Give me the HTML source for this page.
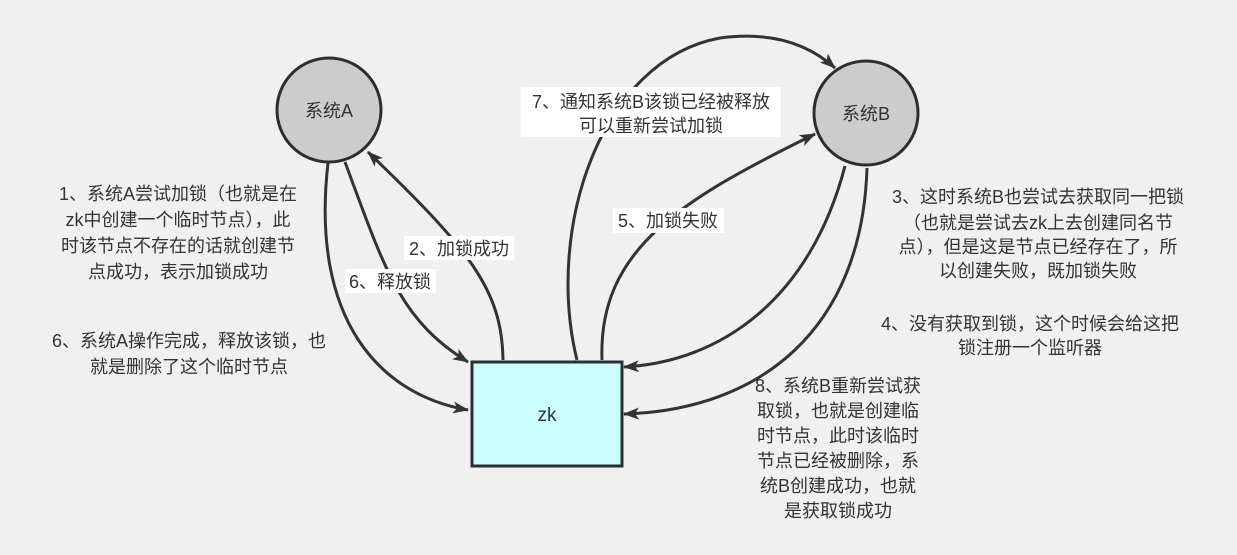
<!DOCTYPE html>
<html><head><meta charset="utf-8"><style>
html,body{margin:0;padding:0;background:#f0f0f0;}
svg{display:block;}
text{font-family:"Liberation Sans","Noto Sans CJK SC",sans-serif;font-size:18px;fill:#333;text-anchor:middle;}
</style></head><body>
<svg width="1237" height="555" viewBox="0 0 1237 555" xmlns="http://www.w3.org/2000/svg">
<defs>
<marker id="ar" markerWidth="16" markerHeight="12" refX="15" refY="6" orient="auto" markerUnits="userSpaceOnUse">
<path d="M0,0 L16,6 L0,12 L4,6 Z" fill="#333"/>
</marker>
</defs>
<rect width="1237" height="555" fill="#f0f0f0"/>
<g fill="none" stroke="#333" stroke-width="3">
<path d="M328,163 C310,320 380,395 468,410" marker-end="url(#ar)"/>
<path d="M345,162 C385,270 400,320 468,362" marker-end="url(#ar)"/>
<path d="M503,360 C502,290 470,250 368,152" marker-end="url(#ar)"/>
<path d="M577,360 C545,230 600,60 720,38 C780,30 815,50 835,68" marker-end="url(#ar)"/>
<path d="M602,360 C598,250 680,200 815,134" marker-end="url(#ar)"/>
<path d="M845,166 C810,300 720,362 624,367" marker-end="url(#ar)"/>
<path d="M867,168 C862,330 760,410 624,414" marker-end="url(#ar)"/>
</g>
<circle cx="329" cy="110" r="52" fill="#cccccc" stroke="#2a2f33" stroke-width="3"/>
<text x="329" y="117">系统A</text>
<circle cx="866" cy="113" r="52" fill="#cccccc" stroke="#2a2f33" stroke-width="3"/>
<text x="866" y="120">系统B</text>
<rect x="472" y="362" width="150" height="104" fill="#ccffff" stroke="#2a2f33" stroke-width="3"/>
<text x="547" y="421" style="font-size:19px">zk</text>

<rect x="521" y="87" width="260" height="50" fill="#fff"/>
<text x="651" y="108">7、通知系统B该锁已经被释放</text>
<text x="651" y="132">可以重新尝试加锁</text>
<rect x="613" y="208" width="111" height="25" fill="#fff"/>
<text x="668" y="227">5、加锁失败</text>
<rect x="404" y="236" width="110" height="24" fill="#fff"/>
<text x="459" y="255">2、加锁成功</text>
<rect x="345" y="269" width="91" height="24" fill="#fff"/>
<text x="390" y="288">6、释放锁</text>

<text x="178" y="200">1、系统A尝试加锁（也就是在</text>
<text x="178" y="226">zk中创建一个临时节点），此</text>
<text x="178" y="252">时该节点不存在的话就创建节</text>
<text x="178" y="278">点成功，表示加锁成功</text>
<text x="189" y="347">6、系统A操作完成，释放该锁，也</text>
<text x="189" y="373">就是删除了这个临时节点</text>

<text x="1038" y="203">3、这时系统B也尝试去获取同一把锁</text>
<text x="1038" y="229">（也就是尝试去zk上去创建同名节</text>
<text x="1038" y="253">点），但是这是节点已经存在了，所</text>
<text x="1038" y="277">以创建失败，既加锁失败</text>
<text x="1030" y="330">4、没有获取到锁，这个时候会给这把</text>
<text x="1030" y="354">锁注册一个监听器</text>

<text x="838" y="392">8、系统B重新尝试获</text>
<text x="838" y="417">取锁，也就是创建临</text>
<text x="838" y="442">时节点，此时该临时</text>
<text x="838" y="467">节点已经被删除，系</text>
<text x="838" y="492">统B创建成功，也就</text>
<text x="838" y="517">是获取锁成功</text>
</svg>
</body></html>
